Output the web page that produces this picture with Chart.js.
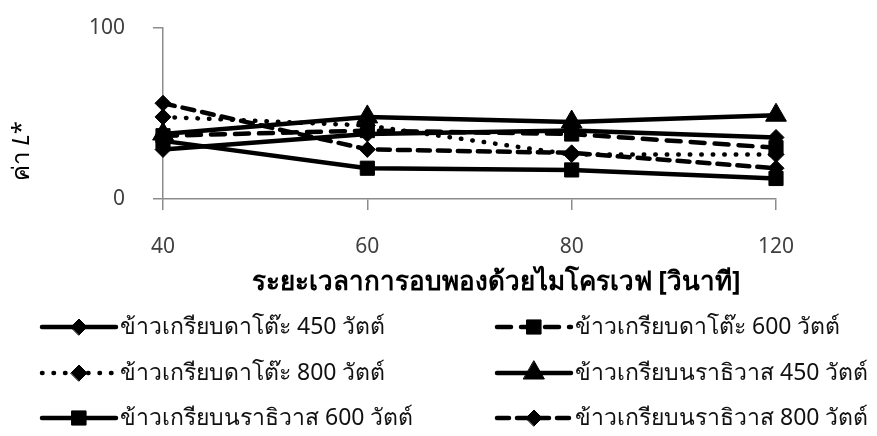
<!DOCTYPE html>
<html>
<head>
<meta charset="utf-8">
<script src="https://cdn.jsdelivr.net/npm/chart.js@4/dist/chart.umd.min.js"></script>
<style>
  html, body { margin: 0; padding: 0; background: #ffffff; }
  #wrap { width: 877px; height: 436px; }
</style>
</head>
<body>
<div id="wrap"><canvas id="c" width="877" height="436"></canvas></div>
<script>
// Puffing time in the microwave (seconds)
const categories = ['40', '60', '80', '120'];

// L* values per cracker type and microwave power
const seriesNames = [
  'ข้าวเกรียบดาโต๊ะ 450 วัตต์',
  'ข้าวเกรียบดาโต๊ะ 600 วัตต์',
  'ข้าวเกรียบดาโต๊ะ 800 วัตต์',
  'ข้าวเกรียบนราธิวาส 450 วัตต์',
  'ข้าวเกรียบนราธิวาส 600 วัตต์',
  'ข้าวเกรียบนราธิวาส 800 วัตต์'
];
const datoW450 = [29, 38, 40, 36];
const datoW600 = [37, 40, 38, 30];
const datoW800 = [48, 43, 26, 26];
const naraW450 = [38, 48, 45, 49];
const naraW600 = [34, 18, 17, 12];
const naraW800 = [56, 29, 27, 18];

const yTicks = [0, 100];
const xTitle = 'ระยะเวลาการอบพองด้วยไมโครเวฟ [วินาที]';

const FONT = "'Noto Sans', 'Open Sans', sans-serif";
const AXIS_GREY = '#8c8c8c';

function series(label, data, style, radius, dash) {
  return {
    label: label,
    data: data,
    borderColor: '#000000',
    backgroundColor: '#000000',
    borderWidth: 4.5,
    borderDash: dash,
    borderCapStyle: 'round',
    borderJoinStyle: 'round',
    pointStyle: style,
    pointRadius: radius,
    pointHoverRadius: radius,
    pointBorderWidth: 1,
    pointBorderColor: '#000000',
    pointBackgroundColor: '#000000',
    tension: 0,
    fill: false,
    clip: false
  };
}

const datasets = [
  series(seriesNames[0], datoW450, 'rectRot', 8, []),
  series(seriesNames[1], datoW600, 'rect', 10, [14, 10]),
  series(seriesNames[2], datoW800, 'rectRot', 8, [0.5, 11]),
  series(seriesNames[3], naraW450, 'triangle', 12, []),
  series(seriesNames[4], naraW600, 'rect', 10, []),
  series(seriesNames[5], naraW800, 'rectRot', 8, [12, 8])
];

// Two-column legend: line sample with its marker, then the series name
const legendPlugin = {
  id: 'twoColLegend',
  afterDraw(chart) {
    const ctx = chart.ctx;
    const colX = [42, 497];
    const rowY = [327, 373, 418];
    const sampleLen = 74;
    chart.data.datasets.forEach((ds, i) => {
      const col = i % 2;
      const row = Math.floor(i / 2);
      const x0 = colX[col];
      const y = rowY[row];
      ctx.save();
      ctx.strokeStyle = '#000000';
      ctx.fillStyle = '#000000';
      ctx.lineWidth = ds.borderWidth;
      ctx.lineCap = 'round';
      ctx.setLineDash(ds.borderDash || []);
      ctx.beginPath();
      ctx.moveTo(x0, y);
      ctx.lineTo(x0 + sampleLen, y);
      ctx.stroke();
      ctx.setLineDash([]);
      ctx.lineWidth = ds.pointBorderWidth;
      Chart.helpers.drawPoint(ctx, {
        pointStyle: ds.pointStyle,
        rotation: 0,
        radius: ds.pointRadius,
        borderWidth: ds.pointBorderWidth
      }, x0 + sampleLen / 2, y);
      ctx.fillStyle = '#111111';
      ctx.font = '23px ' + FONT;
      ctx.textAlign = 'left';
      ctx.textBaseline = 'middle';
      ctx.fillText(ds.label, x0 + sampleLen + 4, y);
      ctx.restore();
    });
  }
};

// Axis titles: the vertical one carries an italic L
const axisTitlePlugin = {
  id: 'axisTitles',
  afterDraw(chart) {
    const ctx = chart.ctx;
    ctx.save();
    ctx.fillStyle = '#000000';
    ctx.textBaseline = 'middle';
    ctx.textAlign = 'center';
    ctx.font = 'bold 26px ' + FONT;
    ctx.fillText(xTitle, 496, 283);
    ctx.restore();

    const parts = [
      { t: 'ค่า ', f: '24px ' + FONT },
      { t: 'L', f: 'italic 24px ' + FONT },
      { t: '*', f: '24px ' + FONT }
    ];
    ctx.save();
    let total = 0;
    parts.forEach(p => { ctx.font = p.f; p.w = ctx.measureText(p.t).width; total += p.w; });
    ctx.translate(22, 151);
    ctx.rotate(-Math.PI / 2);
    ctx.fillStyle = '#000000';
    ctx.textBaseline = 'middle';
    ctx.textAlign = 'left';
    let x = -total / 2;
    parts.forEach(p => { ctx.font = p.f; ctx.fillText(p.t, x, 0); x += p.w; });
    ctx.restore();
  }
};

new Chart(document.getElementById('c'), {
  type: 'line',
  data: { labels: categories, datasets: datasets },
  plugins: [legendPlugin, axisTitlePlugin],
  options: {
    responsive: false,
    animation: false,
    events: [],
    layout: { autoPadding: false, padding: { left: 0, right: 101, top: 28, bottom: 136 } },
    plugins: {
      legend: { display: false },
      tooltip: { enabled: false },
      title: { display: false }
    },
    scales: {
      x: {
        type: 'category',
        offset: false,
        afterFit(scale) { scale.height = 101; },
        grid: {
          display: true,
          offset: false,
          drawOnChartArea: false,
          drawTicks: true,
          tickLength: 11,
          color: AXIS_GREY,
          lineWidth: 1.5
        },
        border: { display: true, color: AXIS_GREY, width: 1.5 },
        ticks: {
          color: '#404040',
          font: { family: FONT, size: 21 },
          padding: 24,
          maxRotation: 0,
          autoSkip: false
        },
        title: { display: false }
      },
      y: {
        min: yTicks[0],
        max: yTicks[yTicks.length - 1],
        afterFit(scale) {
          scale.width = 163;
          scale.paddingTop = 0;
          scale.paddingBottom = 0;
        },
        afterBuildTicks(scale) { scale.ticks = yTicks.map(v => ({ value: v })); },
        grid: {
          display: true,
          drawOnChartArea: false,
          drawTicks: true,
          tickLength: 10,
          color: AXIS_GREY,
          lineWidth: 1.5
        },
        border: { display: true, color: AXIS_GREY, width: 1.5 },
        ticks: {
          color: '#404040',
          font: { family: FONT, size: 21 },
          padding: 28
        },
        title: { display: false }
      }
    }
  }
});
</script>
</body>
</html>
